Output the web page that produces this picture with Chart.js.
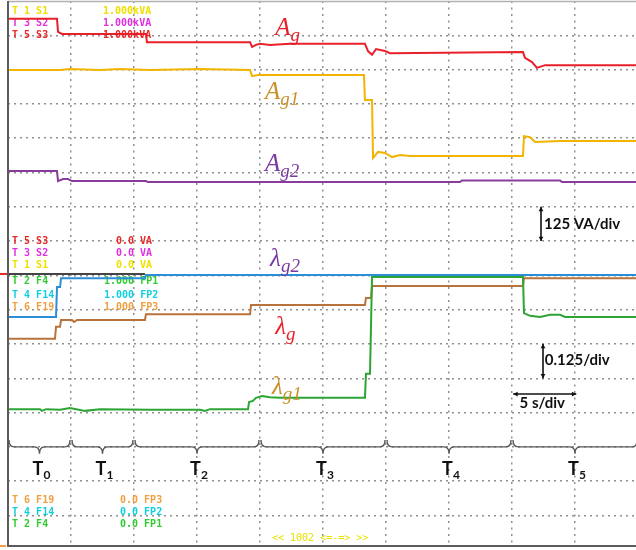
<!DOCTYPE html>
<html>
<head>
<meta charset="utf-8">
<script src="https://cdn.jsdelivr.net/npm/chart.js@4/dist/chart.umd.min.js"></script>
<style>
  html, body { margin: 0; padding: 0; background: #fff; overflow: hidden; }
  #chart { display: block; }
</style>
</head>
<body>
<canvas id="chart" width="636" height="550"></canvas>
<script>
// x: time in s (5 s/div), y: screen divisions (16 rows, 0 at bottom)
const agT = [0, 3.89, 3.97, 4.29, 10.95, 11.03, 19.21, 19.37, 19.68, 20.0, 20.79, 22.38, 28.33, 28.57, 28.89, 29.21, 29.92, 30.32, 40.87, 41.03, 41.59, 41.98, 42.62, 49.84];
const agV = [15.48, 15.48, 15.10, 15.04, 15.04, 14.80, 14.80, 14.66, 14.72, 14.75, 14.72, 14.75, 14.75, 14.54, 14.43, 14.60, 14.54, 14.48, 14.51, 14.34, 14.22, 14.05, 14.13, 14.13];

const ag1T = [0, 4.13, 4.92, 7.30, 8.89, 11.27, 15.24, 19.21, 19.37, 19.84, 28.25, 28.33, 28.89, 28.97, 29.37, 29.92, 30.48, 31.11, 31.90, 40.87, 40.95, 41.43, 41.83, 43.81, 49.84];
const ag1V = [13.99, 13.99, 14.02, 13.99, 14.02, 13.99, 14.02, 13.99, 13.81, 13.84, 13.84, 13.11, 13.11, 11.42, 11.60, 11.57, 11.45, 11.51, 11.48, 11.48, 12.06, 12.03, 11.89, 11.92, 11.92];

const ag2T = [0, 3.89, 3.97, 4.37, 4.76, 5.08, 10.95, 11.11, 35.87, 36.03, 43.81, 43.97, 49.84];
const ag2V = [11.04, 11.04, 10.75, 10.81, 10.81, 10.75, 10.75, 10.72, 10.72, 10.77, 10.77, 10.72, 10.72];

const lg2T = [0, 3.81, 3.89, 4.13, 4.21, 10.87, 10.95, 49.84];
const lg2V = [6.79, 6.79, 7.66, 7.66, 7.92, 7.92, 8.01, 8.01];

const refT = [0, 10.87];
const refV = [8.04, 8.04];

const lgT = [0, 3.73, 3.81, 4.13, 4.21, 5.08, 5.24, 5.48, 10.87, 10.95, 19.21, 19.29, 28.33, 28.41, 28.81, 28.89, 40.87, 40.95, 49.84];
const lgV = [6.15, 6.15, 6.50, 6.50, 6.70, 6.70, 6.64, 6.70, 6.70, 6.87, 6.87, 7.14, 7.14, 7.34, 7.34, 7.69, 7.69, 7.92, 7.92];

const lg1T = [0, 2.54, 2.70, 3.02, 4.13, 4.92, 6.11, 7.30, 11.27, 15.24, 15.63, 16.03, 19.05, 19.13, 19.44, 19.68, 20.16, 20.79, 21.59, 28.33, 28.41, 28.73, 28.89, 40.87, 40.95, 41.43, 42.22, 43.02, 43.81, 44.21, 49.84];
const lg1V = [4.10, 4.10, 4.05, 4.10, 4.08, 4.13, 4.05, 4.10, 4.08, 4.08, 4.05, 4.10, 4.10, 4.31, 4.34, 4.43, 4.48, 4.45, 4.43, 4.43, 5.13, 5.13, 7.95, 7.95, 6.90, 6.82, 6.79, 6.85, 6.85, 6.79, 6.79];

const xGrid = [5, 10, 15, 20, 25, 30, 35, 40, 45];
const yGrid = [1, 2, 3, 4, 5, 6, 7, 8, 9, 10, 11, 12, 13, 14, 15];

const periodStart = [0, 5, 10, 20, 30, 40];
const periodEnd = [5, 10, 20, 30, 40, 50];
const periodNames = ['0', '1', '2', '3', '4', '5'];

const pts = (t, v) => t.map((x, i) => ({ x, y: v[i] }));

// channel readout texts: [name, value, colour, row, value column]
const chanLabels = [
  ['T 1 S1', '1.000kVA', '#f0e000', 15.71, 7.54],
  ['T 3 S2', '1.000kVA', '#e030e0', 15.36, 7.54],
  ['T 5 S3', '1.000kVA', '#e82828', 15.01, 7.54],
  ['T 5 S3', '0.0 VA', '#e82828', 9.00, 8.57],
  ['T 3 S2', '0.0 VA', '#e030e0', 8.65, 8.57],
  ['T 1 S1', '0.0 VA', '#f0e000', 8.30, 8.57],
  ['T 2 F4', '1.000 FP1', '#30cc30', 7.81, 7.62],
  ['T 4 F14', '1.000 FP2', '#10d0e0', 7.43, 7.62],
  ['T 6 F19', '1.000 FP3', '#f0a040', 7.08, 7.62],
  ['T 6 F19', '0.0 FP3', '#f0a040', 1.45, 8.89],
  ['T 4 F14', '0.0 FP2', '#10d0e0', 1.10, 8.89],
  ['T 2 F4', '0.0 FP1', '#30cc30', 0.75, 8.89]
];

// trace names: [main, sub, colour, t, baseline]
const traceNames = [
  ['A', 'g', '#e8202a', 21.2, 15.0],
  ['A', 'g1', '#c8902a', 20.4, 13.14],
  ['A', 'g2', '#7a3aa0', 20.4, 11.04],
  ['λ', 'g2', '#7a3aa0', 20.8, 8.27],
  ['λ', 'g', '#e8202a', 21.2, 6.29],
  ['λ', 'g1', '#c8902a', 20.95, 4.54]
];

function arrow(ctx, x0, y0, x1, y1) {
  const a = Math.atan2(y1 - y0, x1 - x0), h = 5;
  ctx.beginPath();
  ctx.moveTo(x0, y0);
  ctx.lineTo(x1, y1);
  ctx.stroke();
  [[x0, y0, a + Math.PI], [x1, y1, a]].forEach(([x, y, d]) => {
    ctx.beginPath();
    ctx.moveTo(x, y);
    ctx.lineTo(x - h * Math.cos(d - 0.5), y - h * Math.sin(d - 0.5));
    ctx.lineTo(x - h * Math.cos(d + 0.5), y - h * Math.sin(d + 0.5));
    ctx.closePath();
    ctx.fill();
  });
}

function brace(ctx, x0, x1, yTop, yMid, yTip) {
  const m = (x0 + x1) / 2, r = 5;
  ctx.beginPath();
  ctx.moveTo(x0, yTop);
  ctx.quadraticCurveTo(x0, yMid, x0 + r, yMid);
  ctx.lineTo(m - r, yMid);
  ctx.quadraticCurveTo(m, yMid, m, yTip);
  ctx.quadraticCurveTo(m, yMid, m + r, yMid);
  ctx.lineTo(x1 - r, yMid);
  ctx.quadraticCurveTo(x1, yMid, x1, yTop);
  ctx.stroke();
}

const overlay = {
  id: 'overlay',
  beforeDatasetsDraw(chart) {
    const { ctx, scales: { x, y } } = chart;
    ctx.save();
    ctx.font = 'bold 10px "DejaVu Sans Mono"';
    ctx.textBaseline = 'middle';
    ctx.textAlign = 'left';
    chanLabels.forEach(([name, val, col, v, tv]) => {
      ctx.fillStyle = col;
      ctx.fillText(name, x.getPixelForValue(0.32), y.getPixelForValue(v));
      ctx.fillText(val, x.getPixelForValue(tv), y.getPixelForValue(v));
    });
    ctx.font = '10px "DejaVu Sans Mono"';
    ctx.fillStyle = '#e8e000';
    ctx.fillText('<< 1002 <=-=> >>', x.getPixelForValue(20.95), y.getPixelForValue(0.34));
    ctx.restore();
  },
  afterDatasetsDraw(chart) {
    const { ctx, chartArea: a, scales: { x, y } } = chart;
    ctx.save();
    // frame
    ctx.strokeStyle = '#b0b0b0';
    ctx.lineWidth = 1.5;
    ctx.beginPath(); ctx.moveTo(a.left, a.top + 0.5); ctx.lineTo(a.right, a.top + 0.5); ctx.stroke();
    ctx.strokeStyle = '#5c5c5c';
    ctx.lineWidth = 2;
    ctx.beginPath(); ctx.moveTo(a.left, a.top); ctx.lineTo(a.left, a.bottom); ctx.lineTo(a.right, a.bottom); ctx.stroke();
    // channel markers left of the frame
    ctx.fillStyle = '#e82828';
    ctx.fillRect(a.left - 8, y.getPixelForValue(8.04) - 1, 7, 2);
    ctx.fillStyle = '#f0a040';
    ctx.fillRect(a.left - 8, a.bottom - 1, 6, 2);

    // period braces and names
    ctx.strokeStyle = '#555';
    ctx.lineWidth = 1.4;
    periodStart.forEach((s, i) => {
      const x0 = x.getPixelForValue(s) + 1, x1 = x.getPixelForValue(periodEnd[i]) - 1;
      brace(ctx, x0, x1, y.getPixelForValue(3.2), y.getPixelForValue(3.0), y.getPixelForValue(2.8));
      const m = (x0 + x1) / 2;
      ctx.fillStyle = '#111';
      ctx.textBaseline = 'alphabetic';
      ctx.textAlign = 'left';
      ctx.font = 'bold 18px Lato';
      ctx.fillText('T', m - 7, y.getPixelForValue(2.18));
      ctx.font = 'bold 12px Lato';
      ctx.fillText(periodNames[i], m + 4, y.getPixelForValue(2.06));
    });

    // trace names
    traceNames.forEach(([main, sub, col, t, v]) => {
      ctx.fillStyle = col;
      ctx.textAlign = 'left';
      ctx.textBaseline = 'alphabetic';
      ctx.font = 'italic 25px "Liberation Serif"';
      const px = x.getPixelForValue(t), py = y.getPixelForValue(v);
      ctx.fillText(main, px, py);
      const w = ctx.measureText(main).width;
      ctx.font = 'italic 19px "Liberation Serif"';
      ctx.fillText(sub, px + w, py + 6);
    });

    // scale annotations
    ctx.fillStyle = '#111';
    ctx.strokeStyle = '#111';
    ctx.lineWidth = 1.6;
    arrow(ctx, x.getPixelForValue(42.3), y.getPixelForValue(10), x.getPixelForValue(42.3), y.getPixelForValue(9));
    arrow(ctx, x.getPixelForValue(42.46), y.getPixelForValue(6), x.getPixelForValue(42.46), y.getPixelForValue(5));
    arrow(ctx, x.getPixelForValue(40.1), y.getPixelForValue(4.54), x.getPixelForValue(45.1), y.getPixelForValue(4.54));
    ctx.font = 'bold 15px Lato';
    ctx.textBaseline = 'middle';
    ctx.textAlign = 'left';
    ctx.fillText('125 VA/div', x.getPixelForValue(42.54), y.getPixelForValue(9.5));
    ctx.fillText('0.125/div', x.getPixelForValue(42.6), y.getPixelForValue(5.53));
    ctx.fillText('5 s/div', x.getPixelForValue(40.6), y.getPixelForValue(4.27));
    ctx.restore();
  }
};

const line = (label, t, v, color) => ({
  label, data: pts(t, v), borderColor: color, borderWidth: 2,
  pointRadius: 0, fill: false, tension: 0
});

new Chart(document.getElementById('chart'), {
  type: 'line',
  data: {
    datasets: [
      line('ref', refT, refV, '#444444'),
      line('λg2', lg2T, lg2V, '#2b8fd8'),
      line('Ag', agT, agV, '#e8202a'),
      line('Ag1', ag1T, ag1V, '#f2b400'),
      line('Ag2', ag2T, ag2V, '#8a3c9e'),
      line('λg1', lg1T, lg1V, '#2ca534'),
      line('λg', lgT, lgV, '#b8733c')
    ]
  },
  options: {
    responsive: false,
    animation: false,
    layout: { padding: { left: 8, right: 0, top: 1, bottom: 4 } },
    plugins: { legend: { display: false }, tooltip: { enabled: false } },
    scales: {
      x: {
        type: 'linear', min: 0, max: 49.84,
        afterBuildTicks: s => { s.ticks = xGrid.map(value => ({ value })); },
        ticks: { display: false },
        grid: { color: '#8f8f8f', lineWidth: 1.5, drawTicks: false },
        border: { display: false, dash: [2, 4.5] }
      },
      y: {
        type: 'linear', min: 0.11, max: 16,
        afterBuildTicks: s => { s.ticks = yGrid.map(value => ({ value })); },
        ticks: { display: false },
        grid: { color: '#8f8f8f', lineWidth: 1.5, drawTicks: false },
        border: { display: false, dash: [2, 4] }
      }
    }
  },
  plugins: [overlay]
});
</script>
</body>
</html>
